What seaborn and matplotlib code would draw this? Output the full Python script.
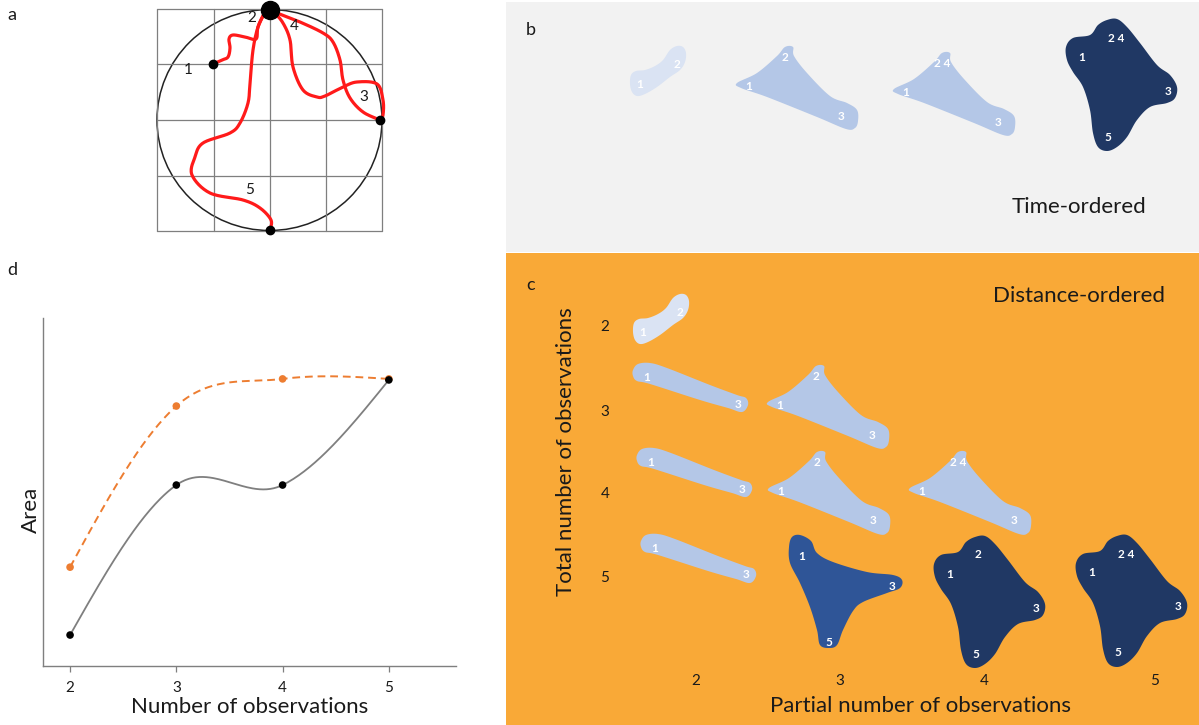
import numpy as np
import pandas as pd
import seaborn as sns
import matplotlib
matplotlib.use("Agg")
import matplotlib.pyplot as plt
from matplotlib.patches import Polygon, Rectangle, Ellipse

# ---------------------------------------------------------------- data
# Panel d: hull area against number of observations
n_obs = [2, 3, 4, 5]
area_time_ordered = [0.089, 0.520, 0.520, 0.822]
area_distance_ordered = [0.284, 0.747, 0.825, 0.825]
tick_labels_d = ["2", "3", "4", "5"]

# Panel c grid labels
total_obs = ["2", "3", "4", "5"]
partial_obs = ["2", "3", "4", "5"]

# Hull outlines (pixel space of the canvas)
hull_pair = [(631, 75), (636, 71), (645, 70), (655, 66), (663, 60), (670, 50),
             (677, 46), (683, 47), (686, 53), (685, 62), (680, 70), (670, 77),
             (657, 87), (645, 94), (637, 96), (632, 92), (630, 84)]
hull_pair_lab = [("1", 640, 84), ("2", 677, 64)]

hull_line = [(633, 370), (638, 364), (650, 363), (667, 368), (710, 385), (737, 395),
             (746, 398), (748, 405), (742, 412), (728, 408), (700, 400), (650, 384),
             (637, 381), (633, 376)]
hull_line_lab = [("1", 647, 377), ("3", 738, 404)]

hull_tri = [(737, 83), (757, 73), (777, 56), (785, 47), (793, 47), (794, 56),
            (807, 73), (830, 96), (847, 103), (857, 110), (858, 121), (855, 128),
            (846, 129), (817, 117), (767, 97), (741, 88)]
hull_tri_lab = [("1", 749, 86), ("2", 785, 57), ("3", 841, 116)]
hull_tri_lab24 = [("1", 749, 86), ("2 4", 785, 57), ("3", 841, 116)]

hull_tee = [(792, 537), (800, 535), (811, 541), (817, 553), (833, 562), (867, 572),
            (893, 575), (902, 580), (900, 588), (887, 593), (863, 602), (853, 611),
            (843, 630), (837, 645), (829, 648), (820, 645), (817, 630), (810, 607),
            (800, 583), (790, 563), (789, 547)]
hull_tee_lab = [("1", 802, 557), ("3", 892, 586), ("5", 829, 643)]

hull_four = [(1066, 47), (1073, 38), (1090, 35), (1098, 25), (1107, 20), (1117, 19),
             (1127, 27), (1140, 43), (1157, 65), (1170, 75), (1177, 87), (1175, 98),
             (1167, 103), (1150, 107), (1137, 120), (1127, 137), (1117, 147),
             (1107, 151), (1098, 147), (1093, 133), (1090, 110), (1083, 87),
             (1073, 72), (1067, 60)]
hull_four_lab = [("1", 1082, 57), ("2", 1110, 38), ("3", 1168, 91), ("5", 1108, 137)]
hull_four_lab24 = [("1", 1082, 57), ("2 4", 1116, 38), ("3", 1168, 91), ("5", 1108, 137)]

# Panel a: walk between observations 1..5 on the circle
walk_1_2 = [(213, 64), (222, 60), (228, 57), (230, 48), (229, 39), (233, 35),
            (245, 37), (256, 39), (258, 27), (265, 12)]
walk_2_3 = [(270, 10), (277, 13), (300, 22), (323, 33), (333, 42), (340, 60),
            (343, 80), (350, 98), (363, 112), (380, 120)]
walk_3_4 = [(380, 120), (383, 115), (383, 100), (377, 84), (357, 82), (343, 87),
            (325, 96), (317, 97), (303, 90), (293, 67), (290, 40), (283, 23), (274, 12)]
walk_4_5 = [(265, 12), (258, 27), (253, 50), (250, 83), (248, 103), (240, 123),
            (230, 133), (203, 143), (195, 157), (192, 175), (210, 193), (243, 200),
            (260, 208), (271, 220), (270, 230)]
obs_points = [(213, 64), (380, 120), (270, 230)]
obs_labels = [("1", 188, 70), ("2", 252, 18), ("4", 294, 26), ("3", 364, 97), ("5", 250, 190)]

# ---------------------------------------------------------------- colours
C_L1, C_L2, C_D1, C_D2 = "#DAE3F3", "#B4C7E7", "#2F5597", "#203864"
C_GRAY_BG, C_ORANGE_BG = "#F2F2F2", "#F9A937"
TXT = "#1a1a1a"


def catmull(pts, n=16, closed=True):
    P = np.asarray(pts, float)
    if not closed:
        P = np.vstack([P[0], P, P[-1]])
    m = len(P)
    segs = range(m) if closed else range(1, m - 2)
    out = []
    t = np.linspace(0, 1, n, endpoint=False)[:, None]
    for i in segs:
        p0, p1, p2, p3 = P[(i - 1) % m], P[i], P[(i + 1) % m], P[(i + 2) % m]
        out.append(0.5 * (2 * p1 + (-p0 + p2) * t + (2 * p0 - 5 * p1 + 4 * p2 - p3) * t ** 2
                          + (-p0 + 3 * p1 - 3 * p2 + p3) * t ** 3))
    if not closed:
        out.append(P[-2][None, :])
    return np.vstack(out)


def smooth_line(x, y, n=60):
    """Smoothed line through the points: central-difference tangents inside,
    free (zero-curvature) tangents at both ends."""
    x = np.asarray(x, float); y = np.asarray(y, float)
    d = np.diff(y) / np.diff(x)
    m = np.zeros_like(y)
    m[1:-1] = (y[2:] - y[:-2]) / (x[2:] - x[:-2])
    m[0] = (3 * d[0] - m[1]) / 2
    m[-1] = (3 * d[-1] - m[-2]) / 2
    xs, ys = [], []
    for i in range(len(x) - 1):
        h = x[i + 1] - x[i]
        t = np.linspace(0, 1, n, endpoint=(i == len(x) - 2))
        h00 = 2 * t ** 3 - 3 * t ** 2 + 1; h10 = t ** 3 - 2 * t ** 2 + t
        h01 = -2 * t ** 3 + 3 * t ** 2; h11 = t ** 3 - t ** 2
        xs.append(x[i] + t * h)
        ys.append(h00 * y[i] + h10 * h * m[i] + h01 * y[i + 1] + h11 * h * m[i + 1])
    return np.concatenate(xs), np.concatenate(ys)


sns.set_theme(style="white")
plt.rcParams["font.family"] = ["Lato", "DejaVu Sans"]

fig = plt.figure(figsize=(11.99, 7.25), dpi=100)
cv = fig.add_axes([0, 0, 1, 1])
cv.set_xlim(0, 1199); cv.set_ylim(725, 0); cv.axis("off")

# panel backgrounds
cv.add_patch(Rectangle((506, 2), 693, 250, color=C_GRAY_BG, lw=0))
cv.add_patch(Rectangle((506, 253), 693, 472, color=C_ORANGE_BG, lw=0))

# panel letters
for s, x, y in [("a", 12, 15), ("b", 531, 30), ("c", 531, 285), ("d", 12, 270)]:
    cv.text(x, y, s, fontsize=13, color=TXT, ha="center", va="center")

# ---- panel a
for gx in [157, 214, 270, 326, 382]:
    cv.plot([gx, gx], [9, 231], color="#7f7f7f", lw=0.9)
for gy in [9, 64, 120, 176, 231]:
    cv.plot([157, 382], [gy, gy], color="#7f7f7f", lw=0.9)
cv.add_patch(Ellipse((269.5, 120), 225, 221, fill=False, ec="#222222", lw=1.1))
for seg in [walk_1_2, walk_2_3, walk_3_4, walk_4_5]:
    c = catmull(seg, closed=False)
    cv.plot(c[:, 0], c[:, 1], color="#FF1A1A", lw=2.3, solid_capstyle="round")
for (px, py) in obs_points:
    cv.plot(px, py, "o", color="black", ms=6)
cv.plot(270, 10, "o", color="black", ms=13)
for s, x, y in obs_labels:
    cv.text(x, y, s, fontsize=11, color=TXT, ha="center", va="center")


# ---- hull drawing helper
def draw_hull(outline, labels, color, dx=0, dy=0):
    c = catmull(outline) + np.array([dx, dy])
    cv.add_patch(Polygon(c, closed=True, fc=color, ec="none"))
    for s, x, y in labels:
        cv.text(x + dx, y + dy, s, fontsize=8.5, color="white", fontweight="bold",
                ha="center", va="center")


# panel b: time-ordered
draw_hull(hull_pair, hull_pair_lab, C_L1)
draw_hull(hull_tri, hull_tri_lab, C_L2)
draw_hull(hull_tri, hull_tri_lab24, C_L2, 157, 6)
draw_hull(hull_four, hull_four_lab24, C_D2)
cv.text(1079, 207, "Time-ordered", fontsize=16, color=TXT, ha="center", va="center")

# panel c: distance-ordered
draw_hull(hull_pair, hull_pair_lab, C_L1, 3, 248)
draw_hull(hull_line, hull_line_lab, C_L2)
draw_hull(hull_line, hull_line_lab, C_L2, 4, 85)
draw_hull(hull_line, hull_line_lab, C_L2, 8, 171)
draw_hull(hull_tri, hull_tri_lab, C_L2, 31, 319)
draw_hull(hull_tri, hull_tri_lab, C_L2, 32, 405)
draw_hull(hull_tri, hull_tri_lab24, C_L2, 173, 405)
draw_hull(hull_tee, hull_tee_lab, C_D1)
draw_hull(hull_four, hull_four_lab, C_D2, -132, 517)
draw_hull(hull_four, hull_four_lab24, C_D2, 10, 516)
cv.text(1079, 296, "Distance-ordered", fontsize=16, color=TXT, ha="center", va="center")

for s, y in zip(total_obs, [327, 412, 494, 578]):
    cv.text(605, y, s, fontsize=11, color=TXT, ha="center", va="center")
for s, x in zip(partial_obs, [696, 840, 984, 1155]):
    cv.text(x, 681, s, fontsize=11, color=TXT, ha="center", va="center")
cv.text(566, 452, "Total number of observations", fontsize=16, color=TXT,
        ha="center", va="center", rotation=90)
cv.text(920, 706, "Partial number of observations", fontsize=16, color=TXT,
        ha="center", va="center")

# ---- panel d
ax = fig.add_axes([43 / 1199, (725 - 666) / 725, 413 / 1199, 348 / 725])
ax.patch.set_alpha(0)
sx_t, sy_t = smooth_line(n_obs, area_time_ordered)
sx_d, sy_d = smooth_line(n_obs, area_distance_ordered)
curve_time = pd.DataFrame({"n": sx_t, "area": sy_t})
curve_dist = pd.DataFrame({"n": sx_d, "area": sy_d})
sns.lineplot(data=curve_dist, x="n", y="area", ax=ax, color="#ED7D31", lw=1.4,
             linestyle=(0, (4, 2.5)), estimator=None, sort=False)
sns.lineplot(data=curve_time, x="n", y="area", ax=ax, color="#7f7f7f", lw=1.3,
             estimator=None, sort=False)
pts_dist = pd.DataFrame({"n": n_obs, "area": area_distance_ordered})
pts_time = pd.DataFrame({"n": n_obs, "area": area_time_ordered})
sns.scatterplot(data=pts_dist, x="n", y="area", ax=ax, color="#ED7D31", s=30,
                edgecolor="none", zorder=3)
sns.scatterplot(data=pts_time, x="n", y="area", ax=ax, color="black", s=30,
                edgecolor="none", zorder=4)
ax.set_xlim(2 - 27 / 106, 5 + 67 / 106)
ax.set_ylim(0, 1)
ax.set_xticks(n_obs)
ax.set_xticklabels(tick_labels_d)
ax.set_yticks([])
sns.despine(ax=ax)
for sp in ["left", "bottom"]:
    ax.spines[sp].set_color("#7f7f7f")
    ax.spines[sp].set_linewidth(1.0)
ax.tick_params(axis="x", bottom=True, length=4, width=0.9, color="#7f7f7f",
               labelsize=11, labelcolor=TXT, pad=7)
ax.set_xlabel("Number of observations", fontsize=16, color=TXT)
ax.set_ylabel("Area", fontsize=16, color=TXT)
ax.xaxis.set_label_coords(0.501, -0.088)
ax.yaxis.set_label_coords(-0.005, 0.448)
ax.grid(False)

fig.savefig("out.png", dpi=100)
